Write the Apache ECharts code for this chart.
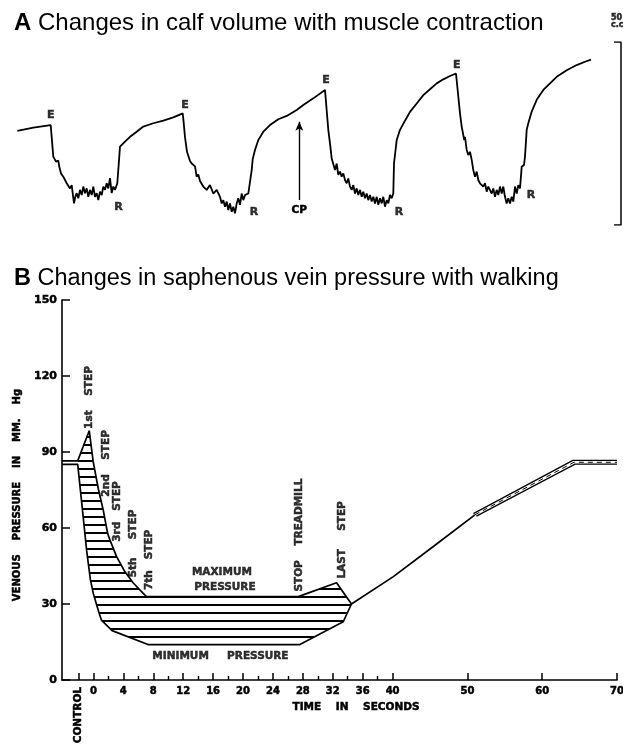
<!DOCTYPE html>
<html>
<head>
<meta charset="utf-8">
<title>Calf volume and saphenous vein pressure</title>
<script src="https://cdn.jsdelivr.net/npm/echarts@6/dist/echarts.min.js"></script>
<style>
  html, body { margin: 0; padding: 0; background: #fff; }
  #chart { width: 623px; height: 744px; }
</style>
</head>
<body>
<div id="chart"></div>
<script>
// ---- A: calf volume trace (x = time along the record, y = volume in c.c.) ----
const lead = [[17.3, 25.7], [33.3, 26.6], [50.7, 27.3]];
const cycle1 = [[51.7, 26.9], [53.3, 18.7], [56, 17.3], [58.3, 17.6], [59.3, 15.9], [61, 14.1], [63.3, 13.2], [65, 12.8],
  [66.7, 11.4], [68.3, 11.8], [70, 10.0], [71.7, 10.9], [72.7, 8.7], [74, 5.9], [75.3, 7.7], [76.7, 8.7], [78.3, 7.3],
  [80, 9.6], [81.7, 8.2], [83.3, 10.5], [85, 8.7], [86.7, 10.0], [88.3, 7.7], [90, 9.6], [91.7, 8.2], [93.3, 10.5],
  [95, 7.7], [96.7, 8.7], [98.3, 6.8], [100, 9.1], [101.7, 8.2], [103.3, 10.5], [105, 9.6], [106.7, 11.4], [108.3, 10.0],
  [110, 12.8], [111.7, 8.7], [113.3, 10.5], [115, 9.6], [116.7, 9.1]];
const rise1 = [[117.3, 11.4], [118.7, 16.5], [120, 21.4], [125, 22.8], [130, 24.1], [136.7, 25.5], [143.3, 26.9],
  [153.3, 27.8], [163.3, 28.5], [173.3, 29.4], [182.7, 30.5]];
const cycle2 = [[183.5, 28.5], [185, 24], [187, 20], [190, 17.5], [191.7, 16.8], [193.3, 17.2], [195, 16.0], [196.7, 13.2],
  [198.3, 13.8], [200, 12.0], [203.3, 10.5], [206.7, 9.6], [210, 10.9], [213.3, 8.6], [216.7, 9.6], [220, 7.7], [221.7, 5.9],
  [223.3, 6.8], [225, 5.0], [226.7, 6.4], [228.3, 4.1], [230, 5.9], [231.7, 3.6], [233.3, 5.0], [235, 3.2], [236.7, 5.9],
  [238.3, 7.3], [240, 5.5], [241.7, 8.6], [243.3, 6.8], [245, 8.2], [246.7, 7.7], [248.3, 8.6], [250, 8.2]];
const rise2 = [[251.7, 15.0], [252.7, 18.0], [255, 20.5], [258.3, 23.2], [263.3, 25.5], [270, 27.3], [278.3, 28.9],
  [286.7, 29.8], [296.7, 31.4], [303.3, 32.8], [313.3, 34.6], [325, 36.9]];
const cycle3 = [[326, 36.4], [328.3, 26.0], [330, 22.3], [331.7, 18.2], [333.3, 18.7], [335, 15.0], [336.7, 16.8],
  [338.3, 13.7], [340, 14.6], [341.7, 13.2], [343.3, 14.1], [345, 12.3], [346.7, 11.4], [348.3, 12.7], [350, 10.5],
  [351.7, 9.6], [353.3, 10.9], [355, 8.6], [356.7, 10.0], [358.3, 8.2], [360, 9.6], [361.7, 7.7], [363.3, 9.1], [365, 7.3],
  [366.7, 8.6], [368.3, 6.8], [370, 8.2], [371.7, 6.4], [373.3, 7.7], [375, 5.9], [376.7, 7.7], [378.3, 5.5], [380, 7.3],
  [381.7, 5.9], [383.3, 7.7], [385, 5.0], [386.7, 6.8], [388.3, 5.9], [390, 8.2], [391.7, 7.3], [393.3, 8.6]];
const rise3 = [[394, 16.8], [396.7, 23.2], [400, 26.0], [405, 28.5], [410, 30.9], [416.7, 33.2], [423.3, 35.5],
  [430, 37.1], [436.7, 38.7], [443.3, 39.8], [450, 40.7], [456, 41.4]];
const cycle4 = [[456.7, 41.0], [458.3, 35.1], [460, 30.5], [461.7, 26.9], [463.3, 24.6], [464.3, 23.2], [465, 24.1],
  [466.7, 20.5], [468.3, 19.1], [470, 20.0], [471.7, 17.8], [473.3, 15.0], [475, 13.2], [476.7, 14.6], [478.3, 12.3],
  [480, 11.4], [481.7, 11.8], [483.3, 10.5], [485, 11.4], [486.7, 9.1], [488.3, 10.5], [490, 10.9], [491.7, 8.6],
  [493.3, 10.0], [495, 7.7], [496.7, 9.6], [498.3, 8.2], [500, 10.5], [501.7, 8.6], [503.3, 10.5], [505, 7.7], [506.7, 5.9],
  [508.3, 7.3], [510, 5.9], [511.7, 7.7], [513.3, 6.4], [515, 10.5], [516.7, 8.6], [518.3, 10.9], [520, 10.0],
  [521.7, 15.9], [524, 16.4]];
const rise4 = [[525, 18.7], [526.7, 26.0], [528.3, 27.8], [531.7, 31.0], [536.7, 34.2], [543.3, 36.9], [550, 38.7],
  [556.7, 40.5], [566.7, 42.3], [576.7, 43.7], [585, 44.6], [591, 45.2]];

const calfTrace = [].concat(lead, cycle1, rise1, cycle2, rise2, cycle3, rise3, cycle4, rise4);

// letters on the trace: E = exercise starts, R = relaxation
const traceLabels = [
  { name: 'E', value: [50.7, 30.0] }, { name: 'E', value: [185, 32.8] },
  { name: 'E', value: [326, 39.6] }, { name: 'E', value: [456.7, 43.7] },
  { name: 'R', value: [118.5, 5.0] }, { name: 'R', value: [254, 3.6] },
  { name: 'R', value: [399, 3.6] }, { name: 'R', value: [531, 8.2] }
];
const cpArrow = [[299.3, 6.8], [299.3, 28.2]];
const scaleBar = [[614, 50], [621, 50], [621, 0], [614, 0]];

// ---- B: saphenous vein pressure (x = seconds, y = mm Hg) ----
const maxPressure = [[-4.2, 86.5], [-2.1, 86.5], [-0.56, 98.4], [-0.03, 86.2], [0.64, 75.7], [1.31, 67.1], [1.9, 57.9],
  [2.2, 55.3], [3.1, 48.7], [4.2, 42.8], [5.3, 38.4], [6.66, 34.2], [7.1, 32.9], [27.4, 32.9], [32.5, 38.4], [34.5, 30]];
const minPressure = [[-4.2, 85.1], [-2.1, 85.1], [-1.6, 71], [-0.9, 51], [-0.4, 39.5], [0.0, 34], [0.4, 30], [0.8, 26],
  [1.1, 23.5], [2.5, 19.5], [7.3, 14.0], [27.6, 14.0], [33.4, 23], [34.5, 30]];
const recovery = [[34.5, 30], [40.1, 40.8], [45.4, 52.6], [51, 65.2]];
const recoveryUpper = [[50.8, 65.7], [64.1, 86.7], [70, 86.7]];
const recoveryLower = [[51.2, 64.7], [64.4, 85.2], [70, 85.2]];
const recoveryMid = [[51, 65.2], [64.25, 85.95], [70, 85.95]];

const yTicks = [0, 30, 60, 90, 120, 150];
const xMajorTicks = [-2, 0, 4, 8, 12, 16, 20, 24, 28, 32, 36, 40, 50, 60, 70];
const xLabels = [0, 4, 8, 12, 16, 20, 24, 28, 32, 36, 40, 50, 60, 70];
const xMinorTicks = [2, 6, 10, 14, 18, 22, 26, 30, 34, 38];

const stepLabels = [
  { name: '1st    STEP', value: [-0.53, 111.5] },
  { name: '2nd    STEP', value: [1.67, 85.5] },
  { name: '3rd   STEP', value: [3.21, 66.5] },
  { name: '5th     STEP', value: [5.28, 53.9] },
  { name: '7th   STEP', value: [7.42, 47.4] },
  { name: 'STOP    TREADMILL', value: [27.47, 57.2] },
  { name: 'LAST     STEP', value: [33.29, 55.3] }
];
const flatLabels = [
  { name: 'MAXIMUM', value: [17.18, 42.6] },
  { name: 'PRESSURE', value: [17.58, 36.7] },
  { name: 'MINIMUM     PRESSURE', value: [16.98, 9.5] }
];

// outline of the shaded band between maximum and minimum pressure
const shadeOutline = maxPressure.slice(1).concat(minPressure.slice(1).reverse());

// horizontal hatching
const hatch = document.createElement('canvas');
hatch.width = 8;
hatch.height = 8;
const hctx = hatch.getContext('2d');
hctx.fillStyle = '#000';
hctx.fillRect(0, 4, 8, 2);

const LETTER = 'DejaVu Sans';
const black = '#000';

function lineSeries (data, xi, width, extra) {
  return Object.assign({
    type: 'line', data: data, xAxisIndex: xi, yAxisIndex: xi,
    symbol: 'none', smooth: false, z: 3, silent: true,
    lineStyle: { color: black, width: width }
  }, extra || {});
}

// text style shared by the lettering on the figure (slightly thickened strokes)
function letters (size, extra) {
  return Object.assign({
    color: black, fontFamily: LETTER, fontWeight: 'bold', fontSize: size,
    textBorderColor: black, textBorderWidth: 0.5, textShadowBlur: 0
  }, extra || {});
}

const chart = echarts.init(document.getElementById('chart'), null, { renderer: 'canvas' });

chart.setOption({
  animation: false,
  backgroundColor: '#fff',
  title: [
    {
      left: 9, top: 6,
      text: '{b|A} Changes in calf volume with muscle contraction',
      textStyle: { fontFamily: 'Liberation Sans', fontSize: 24, fontWeight: 'normal', color: black,
        rich: { b: { fontFamily: 'Liberation Sans', fontSize: 24, fontWeight: 'bold', color: black } } }
    },
    {
      left: 9, top: 262,
      text: '{b|B} Changes in saphenous vein pressure with walking',
      textStyle: { fontFamily: 'Liberation Sans', fontSize: 23.5, fontWeight: 'normal', color: black,
        rich: { b: { fontFamily: 'Liberation Sans', fontSize: 23.5, fontWeight: 'bold', color: black } } }
    }
  ],
  grid: [
    { left: 0, right: 0, top: 42, height: 183, outerBoundsMode: 'none' },
    { left: 62, right: 6, top: 300, bottom: 64, outerBoundsMode: 'none' }
  ],
  xAxis: [
    { gridIndex: 0, type: 'value', min: 0, max: 623, show: false },
    {
      gridIndex: 1, type: 'value', min: -4.2, max: 70, position: 'bottom',
      axisLine: { onZero: false, lineStyle: { color: black, width: 1.6 } },
      axisTick: { inside: true, length: 7, customValues: xMajorTicks, lineStyle: { color: black, width: 1.5 } },
      axisLabel: Object.assign({ customValues: xLabels, margin: 6 }, letters(10)),
      splitLine: { show: false },
      name: 'TIME    IN    SECONDS', nameLocation: 'middle', nameGap: 22,
      nameTextStyle: letters(10.5, { padding: [0, 0, 0, 33] })
    },
    {
      gridIndex: 1, type: 'value', min: -4.2, max: 70, position: 'bottom', offset: 0,
      axisLine: { show: false, onZero: false },
      axisTick: { inside: true, length: 4, customValues: xMinorTicks, lineStyle: { color: black, width: 1.4 } },
      axisLabel: Object.assign({ customValues: [-2], formatter: function () { return 'CONTROL'; }, rotate: 90, margin: 7 },
        letters(10.5)),
      splitLine: { show: false }
    }
  ],
  yAxis: [
    { gridIndex: 0, type: 'value', min: 0, max: 50, show: false },
    {
      gridIndex: 1, type: 'value', min: 0, max: 150, interval: 30,
      axisLine: { show: true, onZero: false, lineStyle: { color: black, width: 1.6 } },
      axisTick: { show: true, inside: true, length: 8, lineStyle: { color: black, width: 1.5 } },
      axisLabel: Object.assign({ margin: 5, customValues: yTicks }, letters(11)),
      splitLine: { show: false },
      name: 'VENOUS    PRESSURE    IN    MM.    Hg', nameLocation: 'middle', nameGap: 34, nameRotate: 90,
      nameTextStyle: letters(10, { padding: [0, 10, 0, 0] })
    }
  ],
  series: [
    // panel A
    lineSeries(calfTrace, 0, 1.8, {
      markLine: {
        silent: true, symbol: ['none', 'arrow'], symbolSize: [6, 9],
        lineStyle: { color: black, width: 1.4, type: 'solid' },
        label: letters(10.5, { show: true, position: 'start', formatter: 'CP', distance: 5 }),
        data: [[{ coord: cpArrow[0] }, { coord: cpArrow[1] }]]
      }
    }),
    lineSeries(scaleBar, 0, 1.5),
    {
      type: 'scatter', xAxisIndex: 0, yAxisIndex: 0, symbolSize: 0, silent: true, clip: false, z: 4,
      data: traceLabels,
      label: letters(11, { show: true, position: 'inside', formatter: '{b}' })
    },
    {
      type: 'scatter', xAxisIndex: 0, yAxisIndex: 0, symbolSize: 0, silent: true, clip: false, z: 4,
      data: [{ name: '50\nc.c.', value: scaleBar[1] }],
      label: letters(8, { show: true, position: 'top', distance: 14, formatter: '{b}', lineHeight: 7,
        align: 'left', offset: [-10, 0] })
    },
    // panel B: hatched band
    {
      type: 'custom', xAxisIndex: 1, yAxisIndex: 1, silent: true, z: 1,
      data: [[0, 0]],
      renderItem: function (params, api) {
        const pts = shadeOutline.map(function (p) { return api.coord(p); });
        return {
          type: 'polygon',
          shape: { points: pts },
          style: { fill: { image: hatch, repeat: 'repeat' }, stroke: null }
        };
      }
    },
    lineSeries(maxPressure, 1, 1.7),
    lineSeries(minPressure, 1, 1.7),
    lineSeries(recovery, 1, 1.7),
    lineSeries(recoveryUpper, 1, 1.3),
    lineSeries(recoveryLower, 1, 1.3),
    lineSeries(recoveryMid, 1, 1, { lineStyle: { color: black, width: 1, type: [5, 4] } }),
    {
      type: 'scatter', xAxisIndex: 1, yAxisIndex: 1, symbolSize: 0, silent: true, z: 4,
      data: stepLabels,
      label: letters(10.5, { show: true, position: 'inside', rotate: 90, formatter: '{b}' })
    },
    {
      type: 'scatter', xAxisIndex: 1, yAxisIndex: 1, symbolSize: 0, silent: true, z: 4,
      data: flatLabels,
      label: letters(10.5, { show: true, position: 'inside', formatter: '{b}' })
    }
  ]
});
</script>
</body>
</html>
